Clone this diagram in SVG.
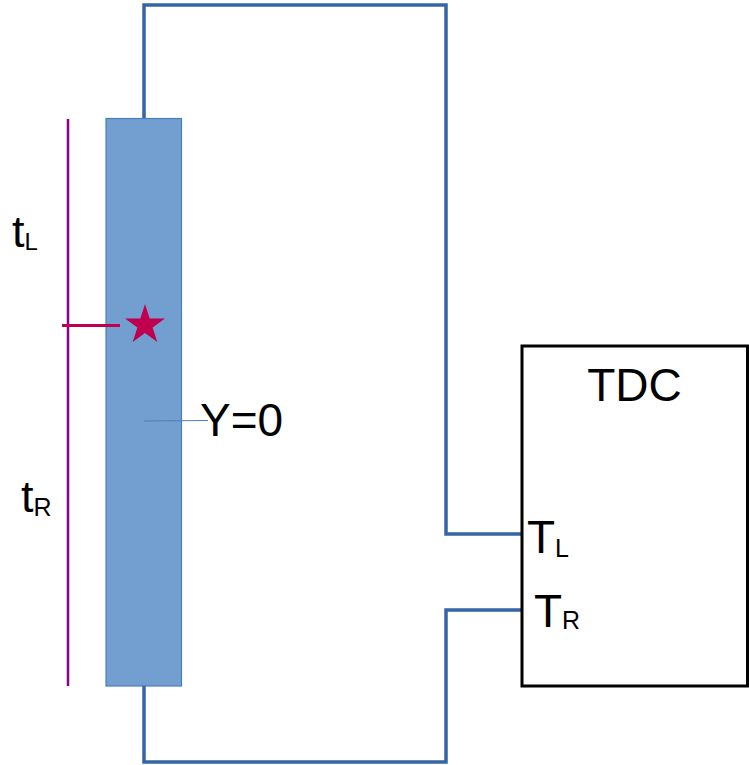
<svg xmlns="http://www.w3.org/2000/svg" width="749" height="765" viewBox="0 0 749 765">
<style>
.wire{fill:none;stroke:#3465a4;stroke-width:3.5}
.txt{font-family:"Liberation Sans",Arial,sans-serif;fill:#000}
</style>
<rect width="749" height="765" fill="#fff"/>
<g id="bar">
<rect x="106" y="118.5" width="75.5" height="567.5" fill="#729fcf" stroke="#4a7ebb" stroke-width="1.2"/>
</g>
<g id="connectors">
<path class="wire" d="M144 118 V5 H446 V534 H522"/>
<path class="wire" d="M144 686 V762 H446 V610 H522"/>
<line x1="144" y1="421" x2="208" y2="420.5" stroke="#4a7ebb" stroke-width="1.2"/>
</g>
<g id="timeline">
<line x1="68" y1="119" x2="68" y2="686" stroke="#8b008b" stroke-width="2.5"/>
<line x1="62" y1="325.5" x2="120" y2="325.5" stroke="#c0004e" stroke-width="3"/>
<polygon points="145,304 149.7,318.5 165,318.5 152.6,327.5 157.3,342 145,333 132.7,342 137.4,327.5 125,318.5 140.3,318.5" fill="#c0004e"/>
</g>
<g id="labels">
<text class="txt" x="12" y="247" font-size="45">t<tspan font-size="24" dy="3">L</tspan></text>
<text class="txt" x="21" y="512" font-size="45">t<tspan font-size="25" dy="4">R</tspan></text>
<text class="txt" x="200" y="436" font-size="46">Y=0</text>
</g>
<g id="tdc">
<rect x="522" y="346" width="225.5" height="340" fill="none" stroke="#000" stroke-width="3"/>
<text class="txt" x="634.5" y="401" font-size="46" text-anchor="middle">TDC</text>
<text class="txt" x="527" y="553" font-size="46">T<tspan font-size="25" dy="4">L</tspan></text>
<text class="txt" x="534" y="627" font-size="46">T<tspan font-size="25" dy="2">R</tspan></text>
</g>
</svg>
